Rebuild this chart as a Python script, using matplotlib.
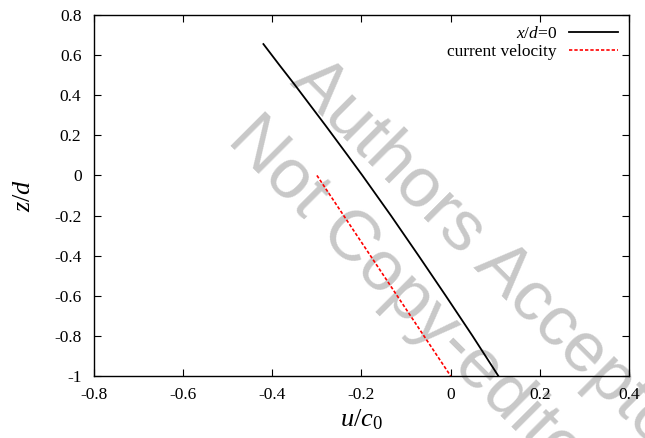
import numpy as np
import matplotlib
matplotlib.use('Agg')
import matplotlib.pyplot as plt

plt.rcParams['font.family'] = 'Liberation Serif'
plt.rcParams['mathtext.fontset'] = 'custom'
plt.rcParams['mathtext.rm'] = 'Liberation Serif'
plt.rcParams['mathtext.it'] = 'Liberation Serif:italic'

# velocity profile at x/d = 0
z_prof = [0.655, 0.55, 0.45, 0.35, 0.25, 0.1, 0.0, -0.2, -0.4, -0.6, -0.8, -1.0]
u_prof = [-0.42, -0.384, -0.349, -0.315, -0.281, -0.231, -0.198, -0.134, -0.072, -0.011, 0.049, 0.107]

# current velocity
z_cur = [0.0, -1.0]
u_cur = [-0.3, 0.0]

xticks = [-0.8, -0.6, -0.4, -0.2, 0, 0.2, 0.4]
yticks = [0.8, 0.6, 0.4, 0.2, 0, -0.2, -0.4, -0.6, -0.8, -1]

fig = plt.figure(figsize=(6.45, 4.38), dpi=100)
ax = fig.add_axes([94/645, 1-376/438, 535/645, 361/438])
ax.patch.set_alpha(0)  # let the watermark show through behind the curves

ax.plot(u_prof, z_prof, color='black', lw=1.3, label=r'$x/d$=0')
ax.plot(u_cur, z_cur, color='red', lw=1.2, ls=(0, (2, 1.2)), label='current velocity')

ax.set_xlim(-0.8, 0.4)
ax.set_ylim(-1, 0.8)
ax.set_xticks(xticks)
ax.set_yticks(yticks)
ax.set_xticklabels(['%g' % t for t in xticks])
ax.set_yticklabels(['%g' % t for t in yticks])
ax.tick_params(direction='in', top=True, right=True, labelsize=12.5, length=5, width=0.8)
ax.tick_params(axis='x', pad=8)
ax.tick_params(axis='y', pad=9)
for s in ax.spines.values():
    s.set_linewidth(1.0)

ax.set_xlabel(r'$u/c_0$', fontsize=19, labelpad=3)
ax.set_ylabel(r'$z/d$', fontsize=19, labelpad=14)

ax.legend(loc='upper right', frameon=False, markerfirst=False, fontsize=12.5,
          handlelength=2.8, handletextpad=0.7, borderaxespad=0.25, labelspacing=0.1)

# watermark, drawn underneath the axes
wm = dict(fontsize=51, color='#c8c8c8', rotation=-45, family='Liberation Sans',
          ha='center', va='center', rotation_mode='anchor', zorder=-1)
fig.text(498/645, 1-267/438, 'Authors Accepted', **wm)
fig.text(420/645, 1-310/438, 'Not Copy-edited', **wm)

fig.savefig('out.png', dpi=100)
